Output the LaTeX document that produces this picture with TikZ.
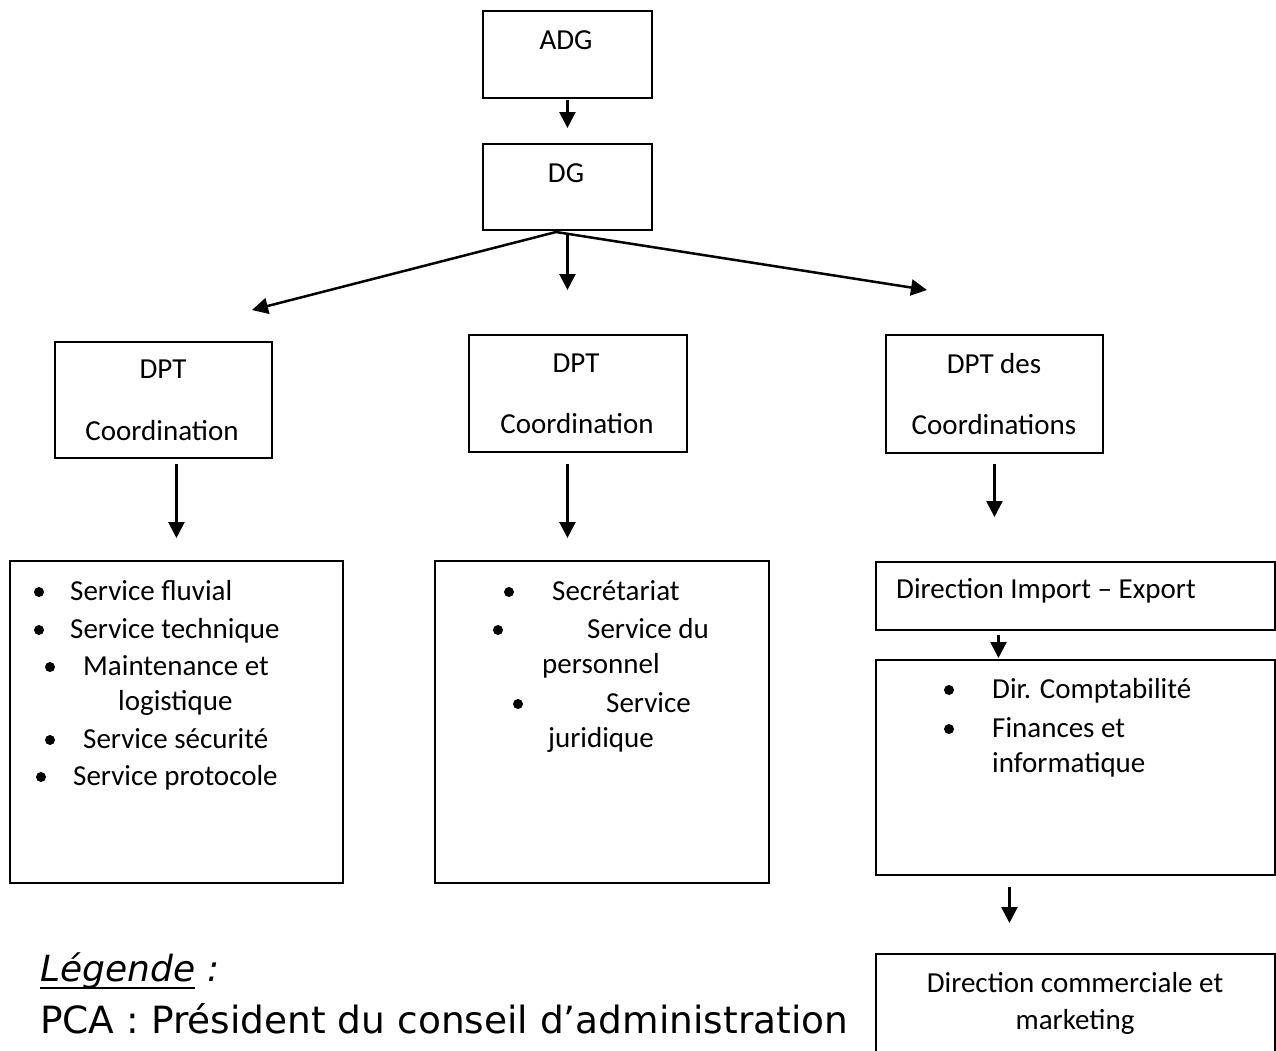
\documentclass[tikz,border=0pt]{standalone}
\usepackage{fontspec}
\setmainfont{Carlito}
\newfontfamily\legendfont{DejaVu Sans}
\usetikzlibrary{arrows.meta}

\begin{document}
\begin{tikzpicture}[x=1pt, y=-1pt,
  box/.style={draw, line width=1.9pt, inner sep=0pt, anchor=north west},
  txt/.style={inner sep=0pt, anchor=base, font=\fontsize{29}{37}\selectfont},
  ltxt/.style={txt, anchor=base west},
  legtxt/.style={inner sep=0pt, anchor=base west, font=\legendfont\fontsize{37.5}{40}\selectfont},
  arr/.style={line width=2.5pt, -{Triangle[length=16pt,width=16pt]}}]

  \useasboundingbox (0,0) rectangle (1276,1050);
  \clip (0,0) rectangle (1276,1050);

  % Top of the chart
  \node[box, minimum width=169pt, minimum height=87pt] (adg) at (482,10) {};
  \node[txt] (adgt) at (566,49) {ADG};
  \node[box, minimum width=169pt, minimum height=86pt] (dg) at (482,143) {};
  \node[txt] (dgt) at (566,182) {DG};

  % Departments
  \node[box, minimum width=217pt, minimum height=116pt] (dpt1) at (54,341) {};
  \node[txt] (dpt1a) at (163,378) {DPT};
  \node[txt] (dpt1b) at (162,440) {Coordination};
  \node[box, minimum width=218pt, minimum height=117pt] (dpt2) at (468,334) {};
  \node[txt] (dpt2a) at (576,372) {DPT};
  \node[txt] (dpt2b) at (577,433) {Coordination};
  \node[box, minimum width=217pt, minimum height=118pt] (dpt3) at (885,334) {};
  \node[txt] (dpt3a) at (994,373) {DPT des};
  \node[txt] (dpt3b) at (994,434) {Coordinations};

  % Services, left
  \node[box, minimum width=333pt, minimum height=322pt] (svc1) at (9,560) {};
  \fill (39,592) circle (5pt);
  \node[ltxt] (s1a) at (70,600) {Service fluvial};
  \fill (39,630) circle (5pt);
  \node[ltxt] (s1b) at (70,638) {Service technique};
  \fill (50,667) circle (5pt);
  \node[ltxt] (s1c) at (83,675) {Maintenance et};
  \node[ltxt] (s1d) at (118,710) {logistique};
  \fill (50,740) circle (5pt);
  \node[ltxt] (s1e) at (83,748) {Service sécurité};
  \fill (41,777) circle (5pt);
  \node[ltxt] (s1f) at (73,785) {Service protocole};

  % Services, middle
  \node[box, minimum width=334pt, minimum height=322pt] (svc2) at (434,560) {};
  \fill (509,592) circle (5pt);
  \node[ltxt] (s2a) at (552,600) {Secrétariat};
  \fill (498,630) circle (5pt);
  \node[ltxt] (s2b) at (587,638) {Service du};
  \node[ltxt] (s2c) at (542,673) {personnel};
  \fill (518,704) circle (5pt);
  \node[ltxt] (s2d) at (606,712) {Service};
  \node[ltxt] (s2e) at (548,747) {juridique};

  % Directions, right
  \node[box, minimum width=399pt, minimum height=68pt] (imp) at (875,561) {};
  \node[ltxt] (impt) at (896,598) {Direction Import – Export};
  \node[box, minimum width=399pt, minimum height=215pt] (fin) at (875,659) {};
  \fill (949,690) circle (5pt);
  \node[ltxt] (fina) at (992,698) {Dir. Comptabilité};
  \fill (949,729) circle (5pt);
  \node[ltxt] (finb) at (992,737) {Finances et};
  \node[ltxt] (finc) at (992,772) {informatique};
  \node[box, minimum width=399pt, minimum height=130pt] (com) at (875,953) {};
  \node[txt] (coma) at (1075,992) {Direction commerciale et};
  \node[txt] (comb) at (1075,1029) {marketing};

  % Arrows
  \coordinate (fork) at (556,232);
  \coordinate (tipL) at (252,310);
  \coordinate (tipR) at (927,290);
  \draw[arr, shorten <=1pt, shorten >=15pt] (adg.south) -- (dg.north);
  \draw[arr] (fork) -- (tipL);
  \draw[arr] (fork) -- (tipR);
  \draw[arr, shorten <=4pt, shorten >=44pt] (dg.south) -- (dg.south |- dpt2.north);
  \draw[arr, shorten <=5pt, shorten >=22pt] (svc1.north |- dpt1.south) -- (svc1.north);
  \draw[arr, shorten <=11pt, shorten >=22pt] (dg.south |- dpt2.south) -- (dg.south |- svc2.north);
  \draw[arr, shorten <=10pt, shorten >=44pt] (dpt3.south) -- (dpt3.south |- imp.north);
  \draw[arr, shorten <=4pt, shorten >=1pt] ([xshift=-77pt]imp.south) -- ([xshift=-77pt]fin.north);
  \draw[arr, shorten <=11pt, shorten >=30pt] ([xshift=-66pt]fin.south) -- ([xshift=-66pt]com.north);

  % Legend
  \node[legtxt, font=\legendfont\itshape\fontsize{36}{40}\selectfont] (leg) at (40,981) {Légende};
  \node[legtxt, font=\legendfont\itshape\fontsize{36}{40}\selectfont] (legc) at ([xshift=12pt]leg.base east) {:};
  \draw[line width=2.6pt] ([yshift=-7pt]leg.base west) -- ([yshift=-7pt]leg.base east);
  \node[legtxt] (pca) at (40,1033) {PCA : Président du conseil d’administration};

\end{tikzpicture}
\end{document}
